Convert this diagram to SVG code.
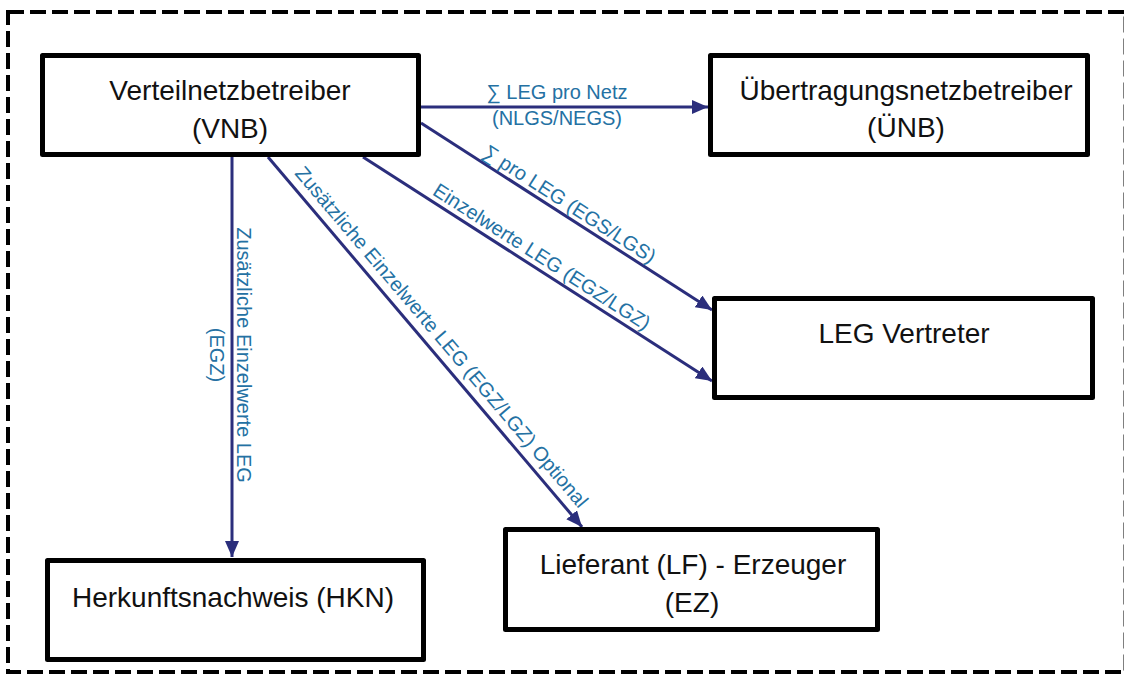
<svg xmlns="http://www.w3.org/2000/svg" width="1124" height="675" viewBox="0 0 1124 675">
  <style>
    .frame { fill: none; stroke: #000; stroke-width: 4; stroke-dasharray: 16 6; }
    .box { fill: #fff; stroke: #000; stroke-width: 5; stroke-linejoin: round; }
    .name { font-family: "Liberation Sans", Arial, sans-serif; font-size: 28px; fill: #111; text-anchor: middle; }
    .flow { fill: none; stroke: #2B2E7C; stroke-width: 3; marker-end: url(#head); }
    .lbl { font-family: "Liberation Sans", Arial, sans-serif; font-size: 20px; fill: #2471A3; text-anchor: middle; }
  </style>
  <defs>
    <marker id="head" markerUnits="userSpaceOnUse" markerWidth="16" markerHeight="14" viewBox="0 0 16 14" refX="16" refY="7" orient="auto">
      <path d="M0,0 L16,7 L0,14 z" fill="#2B2E7C"/>
    </marker>
  </defs>

  <rect width="1124" height="675" fill="#fff"/>

  <!-- dashed boundary -->
  <rect class="frame" x="8" y="12" width="1117.5" height="660"/>

  <!-- connectors -->
  <g id="connectors">
    <line class="flow" x1="421" y1="107" x2="708" y2="107"/>
    <line class="flow" x1="421" y1="123" x2="712" y2="310"/>
    <line class="flow" x1="363" y1="157" x2="712" y2="381"/>
    <line class="flow" x1="232" y1="157" x2="232" y2="557"/>
    <line class="flow" x1="268" y1="157" x2="582" y2="527"/>

    <text class="lbl" x="557" y="99">∑ LEG pro Netz</text>
    <text class="lbl" x="557" y="125">(NLGS/NEGS)</text>

    <text class="lbl" transform="translate(563,214) rotate(32.7)" y="-5">∑ pro LEG (EGS/LGS)</text>
    <text class="lbl" transform="translate(535,267.5) rotate(32.7)" y="-6">Einzelwerte LEG (EGZ/LGZ)</text>

    <g transform="translate(237,355) rotate(90)">
      <text class="lbl" x="0" y="0">Zusätzliche Einzelwerte LEG</text>
      <text class="lbl" x="0" y="27">(EGZ)</text>
    </g>

    <text class="lbl" transform="translate(429.6,347.3) rotate(49.66)" y="-9">Zusätzliche Einzelwerte LEG (EGZ/LGZ)<tspan dx="5.5">Optional</tspan></text>
  </g>

  <!-- nodes -->
  <g id="vnb">
    <rect class="box" x="42.5" y="55.5" width="376" height="99"/>
    <text class="name" x="230" y="100">Verteilnetzbetreiber</text>
    <text class="name" x="230" y="138">(VNB)</text>
  </g>

  <g id="uenb">
    <rect class="box" x="710.5" y="55.5" width="377" height="99"/>
    <text class="name" x="906" y="100">Übertragungsnetzbetreiber</text>
    <text class="name" x="906" y="137">(ÜNB)</text>
  </g>

  <g id="leg">
    <rect class="box" x="714.5" y="298.5" width="378" height="99"/>
    <text class="name" x="904" y="343">LEG Vertreter</text>
  </g>

  <g id="lf-ez">
    <rect class="box" x="505.5" y="529.5" width="372" height="100"/>
    <text class="name" x="693" y="574">Lieferant (LF) - Erzeuger</text>
    <text class="name" x="692" y="612">(EZ)</text>
  </g>

  <g id="hkn">
    <rect class="box" x="47.5" y="560.5" width="376" height="99"/>
    <text class="name" x="233" y="607">Herkunftsnachweis (HKN)</text>
  </g>
</svg>
